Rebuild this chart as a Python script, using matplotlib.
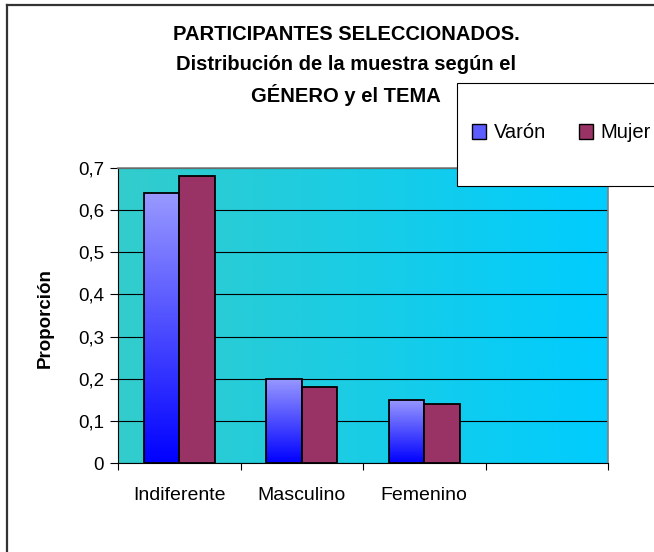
import numpy as np
import matplotlib
matplotlib.use("Agg")
import matplotlib.pyplot as plt
from matplotlib.patches import Rectangle, Patch
from matplotlib.lines import Line2D

# datos del gráfico
categorias = ["Indiferente", "Masculino", "Femenino"]
varon = [0.64, 0.20, 0.15]
mujer = [0.68, 0.18, 0.14]
n_huecos = 4  # el eje tiene un cuarto hueco vacío
titulo = ["PARTICIPANTES SELECCIONADOS.",
          "Distribución de la muestra según el",
          "GÉNERO y el TEMA"]
yticks = [0, 0.1, 0.2, 0.3, 0.4, 0.5, 0.6, 0.7]

plt.rcParams["font.family"] = ["Liberation Sans", "DejaVu Sans"]

W, H = 654, 552
fig = plt.figure(figsize=(W / 100, H / 100), dpi=100)
ax = fig.add_axes([118 / W, 1 - 463 / H, (608 - 118) / W, (463 - 168) / H])

# fondo degradado (turquesa -> celeste)
t = np.linspace(0, 1, 256)
c0 = np.array([51, 204, 204]) / 255
c1 = np.array([0, 204, 255]) / 255
fondo = c0[None, None, :] * (1 - t)[None, :, None] + c1[None, None, :] * t[None, :, None]
ax.imshow(fondo, extent=[0, 1, 0, 1], transform=ax.transAxes, aspect="auto", zorder=0)

ax.set_yticks(yticks)
ax.yaxis.grid(True, color="black", lw=0.8, zorder=0.5)
ax.set_axisbelow(True)

w = 0.29
x = np.arange(len(categorias))
barras_v = ax.bar(x - w / 2, varon, w, facecolor="none", edgecolor="black", lw=1.3, zorder=3)
ax.bar(x + w / 2, mujer, w, color="#993366", edgecolor="black", lw=1.3, zorder=3)

# degradado vertical de las barras de Varón
s = np.linspace(0, 1, 256)
b0 = np.array([0, 0, 255]) / 255
b1 = np.array([153, 153, 255]) / 255
grad = b0[None, None, :] * (1 - s)[:, None, None] + b1[None, None, :] * s[:, None, None]
for p in barras_v:
    x0, y0 = p.get_x(), p.get_y()
    ax.imshow(grad, extent=[x0, x0 + p.get_width(), y0, y0 + p.get_height()],
              origin="lower", aspect="auto", zorder=2.5)

ax.set_xlim(-0.5, n_huecos - 0.5)
ax.set_ylim(0, 0.7)

ax.set_xticks(np.arange(n_huecos + 1) - 0.5)
ax.set_xticklabels([])
ax.set_xticks(x, minor=True)
ax.set_xticklabels(categorias, minor=True)
ax.tick_params(axis="x", which="major", direction="out", length=5, color="black")
ax.tick_params(axis="x", which="minor", length=0, pad=17, labelsize=14)
ax.set_yticklabels([("%.1f" % v).replace(".", ",") if v else "0" for v in yticks])
ax.tick_params(axis="y", direction="out", length=6, pad=4, labelsize=13.5)

for lado in ["top", "right"]:
    ax.spines[lado].set_color("#808080")
    ax.spines[lado].set_linewidth(1.2)
for lado in ["left", "bottom"]:
    ax.spines[lado].set_color("black")

fig.text(45 / W, 1 - 318 / H, "Proporción", rotation=90, ha="center", va="center",
         fontsize=13.5, fontweight="bold")
# título en tres líneas
for i, linea in enumerate(titulo):
    fig.text(346 / W, 1 - (32 + 30.5 * i) / H, linea, ha="center", va="center_baseline",
             fontsize=14.5, fontweight="bold")

# leyenda recortada por el borde derecho
marco = Rectangle((457 / W, 1 - 186 / H), 1, (186 - 83) / H, transform=fig.transFigure,
                  facecolor="white", edgecolor="black", lw=0.8, zorder=5)
fig.add_artist(marco)
handles = [Patch(facecolor="#5c5cff", edgecolor="black"),
           Patch(facecolor="#993366", edgecolor="black")]
leg = fig.legend(handles, ["Varón", "Mujer"], loc="center left",
                 bbox_to_anchor=(472 / W, 1 - 133 / H), ncol=2, frameon=False,
                 fontsize=14.5, handlelength=0.7, handleheight=0.7,
                 handletextpad=0.4, columnspacing=1.6, borderpad=0, borderaxespad=0)
leg.set_zorder(6)

# borde exterior del gráfico
fig.add_artist(Line2D([7 / W, 7 / W], [0, 1 - 5 / H], transform=fig.transFigure,
                      color="#333333", lw=1.6))
fig.add_artist(Line2D([7 / W, 1], [1 - 5 / H, 1 - 5 / H], transform=fig.transFigure,
                      color="#333333", lw=1.6))

fig.savefig("out.png", dpi=100)
